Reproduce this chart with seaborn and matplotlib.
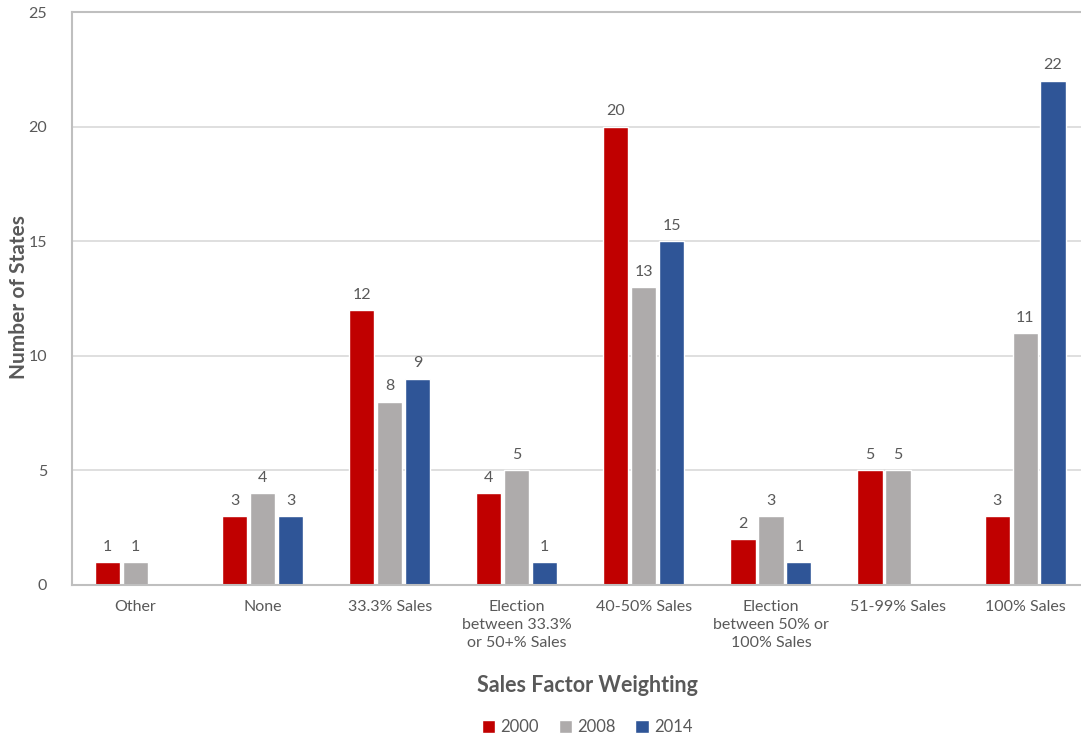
import numpy as np
import pandas as pd
import matplotlib
matplotlib.use("Agg")
import matplotlib.pyplot as plt
import seaborn as sns

categories = ["Other", "None", "33.3% Sales", "Election\nbetween 33.3%\nor 50+% Sales",
              "40-50% Sales", "Election\nbetween 50% or\n100% Sales", "51-99% Sales", "100% Sales"]
years = ["2000", "2008", "2014"]
v2000 = [1, 3, 12, 4, 20, 2, 5, 3]
v2008 = [1, 4, 8, 5, 13, 3, 5, 11]
v2014 = [np.nan, 3, 9, 1, 15, 1, np.nan, 22]
colors = ["#C00000", "#AEABAB", "#2F5597"]

rows = []
for y, vals in zip(years, [v2000, v2008, v2014]):
    for c, v in zip(categories, vals):
        rows.append({"cat": c, "year": y, "val": v})
df = pd.DataFrame(rows)

sns.set_theme(style="white")
plt.rcParams["font.family"] = ["Lato", "DejaVu Sans"]
txt = "#595959"

fig = plt.figure(figsize=(10.81, 7.37), dpi=100)
ax = fig.add_axes([72/1081, (737-585)/737, 1009/1081, (585-12)/737])

sns.barplot(data=df.dropna(), x="cat", y="val", hue="year", order=categories,
            hue_order=years, palette=colors, width=0.66, gap=0.1,
            saturation=1, ax=ax, legend=True)

for cont in ax.containers:
    ax.bar_label(cont, fmt="%g", padding=6, fontsize=11.5, color=txt)

ax.set_ylim(0, 25)
ax.set_xlim(-0.5, 7.44)
ax.set_yticks([0, 5, 10, 15, 20, 25])
ax.yaxis.grid(True, color="#D9D9D9", linewidth=1.2)
ax.set_axisbelow(True)
ax.spines["right"].set_visible(False)
for s in ["left", "bottom", "top"]:
    ax.spines[s].set_color("#BFBFBF")
    ax.spines[s].set_linewidth(1.5)
ax.tick_params(axis="both", length=0, labelsize=11.5, labelcolor=txt)
ax.tick_params(axis="x", pad=11)
ax.tick_params(axis="y", pad=18)
for lab in ax.get_xticklabels():
    lab.set_linespacing(1.35)

ax.set_xlabel("")
ax.set_ylabel("")
fig.text(587/1081, 1 - 686/737, "Sales Factor Weighting", fontsize=15.5, fontweight="bold",
         color=txt, ha="center", va="center")
fig.text(19/1081, 1 - 297/737, "Number of States", fontsize=15, fontweight="bold",
         color=txt, ha="center", va="center", rotation=90)

leg = ax.legend(loc="center", frameon=False, ncol=3,
                fontsize=12, handlelength=0.8, handleheight=0.8, handletextpad=0.3,
                columnspacing=1.2)
leg.set_bbox_to_anchor((587/1081, 10/737), transform=fig.transFigure)
for t in leg.get_texts():
    t.set_color(txt)

fig.savefig("out.png", dpi=100)
